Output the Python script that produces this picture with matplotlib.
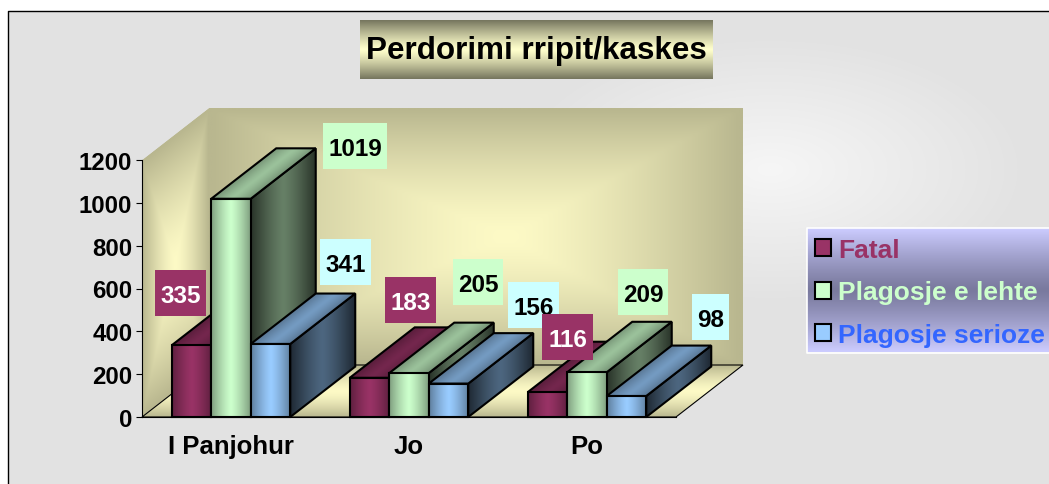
import numpy as np
import matplotlib
matplotlib.use('Agg')
import matplotlib.pyplot as plt
from matplotlib.patches import Patch, Polygon, Rectangle
from matplotlib.transforms import Affine2D, IdentityTransform

plt.rcParams['font.family'] = ['Liberation Sans', 'DejaVu Sans']
plt.rcParams['font.weight'] = 'bold'

title = 'Perdorimi rripit/kaskes'
categories = ['I Panjohur', 'Jo', 'Po']
series_names = ['Fatal', 'Plagosje e lehte', 'Plagosje serioze']
fatal = [335, 183, 116]
plagosje_lehte = [1019, 205, 209]
plagosje_serioze = [341, 156, 98]
y_ticks = [0, 200, 400, 600, 800, 1000, 1200]

W, H = 1049, 485
bar_colors = ['#993366', '#CCFFCC', '#99CCFF']
label_faces = ['#993366', '#CCFFCC', '#CCFFFF']
label_texts = ['white', 'black', 'black']
legend_texts = ['#993366', '#CCFFCC', '#3366FF']

# label offsets from the front top centre of each bar, in pixels
label_offsets = [
    [(-11, 52), (41, 78), (20, 55)],
    [(124, 53), (69, 91), (56, 80)],
    [(75, 82), (85, 79), (84, 79)],
]


def rgb(color):
    return np.array(matplotlib.colors.to_rgb(color))


def blend(t, c0, c1):
    t = np.clip(t, 0, 1)[..., None]
    return rgb(c0) * (1 - t) + rgb(c1) * t


def across(color, mid, edge):
    # dark at both ends, bright in the middle, along the first face edge
    t = np.abs(np.linspace(-1, 1, 64)) ** 1.3
    col = rgb(color)
    row = col * (mid * (1 - t[..., None]) + edge * t[..., None])
    return np.repeat(row[None, :, :], 8, axis=0)


def wall_image(cu=0.5, only_v=False):
    u, v = np.meshgrid(np.linspace(0, 1, 64), np.linspace(0, 1, 64))
    du = np.where(u < cu, (cu - u) / cu, (u - cu) / (1 - cu))
    dv = np.abs(2 * v - 1)
    t = dv if only_v else np.maximum(du, dv)
    return blend(t ** 1.4, '#FDFAC6', '#B9B78F')


def face(ax, origin, e1, e2, img, z, edge='black', lw=1.5):
    rgba = np.dstack([img, np.ones(img.shape[:2])])
    im = ax.imshow(rgba, extent=(0, 1, 0, 1), origin='lower', aspect='auto',
                   interpolation='bilinear', zorder=z)
    im.set_transform(Affine2D.from_values(e1[0], e1[1], e2[0], e2[1], origin[0], origin[1]) + ax.transData)
    o = np.array(origin)
    pts = [o, o + e1, o + np.array(e1) + e2, o + e2]
    clip = Polygon(pts, closed=True, transform=ax.transData)
    im.set_clip_box(fig.bbox)
    im.set_clip_path(clip)
    if edge is not None:
        ax.add_patch(Polygon(pts, closed=True, fill=False, edgecolor=edge, linewidth=lw,
                             joinstyle='miter', zorder=z + 0.01, clip_on=False))


fig = plt.figure(figsize=(W / 100, H / 100), dpi=100, facecolor='white')

# backdrop, title and frame in pixel coordinates
bg = fig.add_axes([0, 0, 1, 1], zorder=0)
xx, yy = np.meshgrid(np.arange(8, W), np.arange(12, H))
dist = np.sqrt(((xx - 770) / 260.0) ** 2 + ((yy - 170) / 135.0) ** 2)
bg.imshow(blend(dist, '#F6F6F6', '#E2E2E2'), extent=(8, W, H, 12), origin='upper', aspect='auto')
bg.plot([7.5, 7.5, W], [H, 11.5, 11.5], color='black', lw=1)

band = np.abs(np.linspace(-1, 1, 59)) ** 1.2
bg.imshow(blend(band, '#FFFFCC', '#77775F')[:, None, :], extent=(360, 713, 80, 21),
          origin='upper', aspect='auto', interpolation='bilinear')
bg.text(536.5, 51, title, fontsize=22.6, ha='center', va='center', color='black')

band = np.abs(np.linspace(-1, 1, 125)) ** 1.2
bg.imshow(blend(band, '#7A7A9E', '#CCCCFF')[:, None, :], extent=(807, W, 353, 229),
          origin='upper', aspect='auto', interpolation='bilinear')
bg.plot([W, 806.5, 806.5, W], [228.5, 228.5, 353.5, 353.5], color='white', lw=1.2)
bg.set_xlim(0, W)
bg.set_ylim(H, 0)
bg.axis('off')

# chart axes cover the front plane of the 3d box
ax = fig.add_axes([142 / W, (H - 418) / H, 534 / W, 257 / H], zorder=1)
ax.patch.set_visible(False)
n_cat = len(categories)
depth_x = 67 / 178.0
depth_y = 52 / 257.0 * 1200
depth = np.array([depth_x, depth_y])
top = y_ticks[-1]

face(ax, (0, 0), depth, (0, top), wall_image(), 0.5, edge=None)
face(ax, depth, (n_cat, 0), (0, top), wall_image(cu=0.56), 0.6, edge=None)
face(ax, (0, 0), (n_cat, 0), depth, wall_image(only_v=True), 0.7, edge='black', lw=0.8)

values = [fatal, plagosje_lehte, plagosje_serioze]
bar_w = 39.5 / 178.0
bar_depth = depth * 0.97
z = 3.0
for c in range(n_cat):
    for s in range(len(values)):
        v = values[s][c]
        x0 = c + 0.5 + (s - 1.5) * bar_w
        col = bar_colors[s]
        face(ax, (x0 + bar_w, 0), tuple(bar_depth), (0, v), across(col, 0.5, 0.2), z)
        face(ax, (x0, v), (bar_w, 0), tuple(bar_depth), across(col, 0.76, 0.58), z + 0.1)
        face(ax, (x0, 0), (bar_w, 0), (0, v), across(col, 1.0, 0.62), z + 0.2)
        z += 0.5

ax.set_xlim(0, n_cat)
ax.set_ylim(0, top)

# value labels, later categories sit on top of earlier ones
for c in range(n_cat):
    for s in range(len(values)):
        v = values[s][c]
        x0 = c + 0.5 + (s - 1) * bar_w
        dx, dy = label_offsets[s][c]
        px, py = ax.transData.transform((x0, v))
        txt = str(v)
        bw = 13.5 * len(txt) + 10
        zl = 20 + c + s * 0.1
        ax.add_patch(Rectangle((px + dx - bw / 2, py + dy - 23), bw, 46, facecolor=label_faces[s],
                               edgecolor='none', transform=IdentityTransform(), zorder=zl, clip_on=False))
        ax.annotate(txt, (x0, v), xytext=(dx, dy), textcoords='offset pixels', ha='center',
                    va='center_baseline', fontsize=17.5, color=label_texts[s], zorder=zl + 0.05,
                    annotation_clip=False)

ax.set_xticks(np.arange(n_cat) + 0.5)
ax.set_xticklabels(categories, fontsize=18.5)
ax.set_yticks(y_ticks)
ax.set_yticklabels([str(t) for t in y_ticks], fontsize=17.3)
ax.tick_params(axis='x', length=0, pad=12)
ax.tick_params(axis='y', length=4, width=0.8, pad=3)
for name in ['top', 'right']:
    ax.spines[name].set_visible(False)

handles = [Patch(facecolor=c, edgecolor='black', linewidth=1.5) for c in bar_colors]
leg = ax.legend(handles, series_names, loc='upper left', frameon=False, fontsize=19,
                bbox_to_anchor=(815 / W, (H - 239) / H), bbox_transform=fig.transFigure,
                borderaxespad=0, borderpad=0, handlelength=0.6, handleheight=0.6,
                handletextpad=0.28, labelspacing=0.7, labelcolor=legend_texts)

fig.savefig('out.png', dpi=100, facecolor='white')
